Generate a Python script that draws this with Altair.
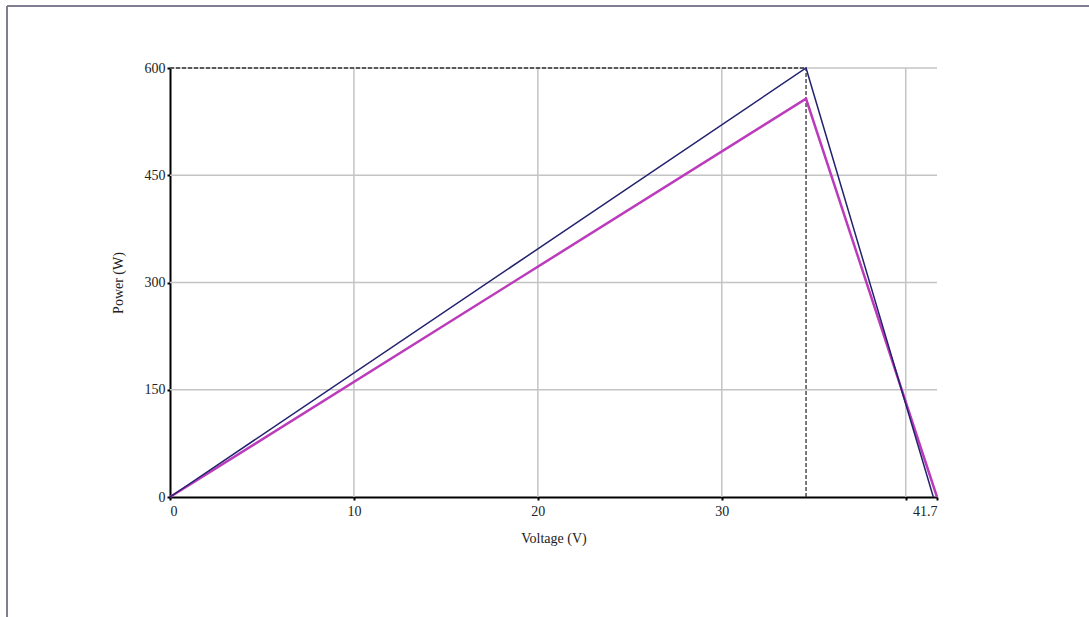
import altair as alt
import pandas as pd

# Data
voltage_upper = [0, 34.58, 41.5]
power_upper = [0, 600, 0]
voltage_lower = [0, 34.58, 41.7]
power_lower = [0, 557, 0]
mpp_v = 34.58
mpp_p = 600
x_grid = [10, 20, 30, 40]
y_grid = [150, 300, 450, 600]
x_ticks = [0, 10, 20, 30, 40, 41.7]
y_ticks = [0, 150, 300, 450, 600]

W, H = 767, 429
FONT = "Liberation Serif"

xs = alt.Scale(domain=[0, 41.7], nice=False, zero=False)
ys = alt.Scale(domain=[0, 600], nice=False)

df_up = pd.DataFrame({"v": voltage_upper, "p": power_upper, "o": range(3)})
df_lo = pd.DataFrame({"v": voltage_lower, "p": power_lower, "o": range(3)})

axis_common = dict(grid=False, domainColor="black", domainWidth=2, tickColor="black",
                   tickSize=3, tickWidth=2, labelFont=FONT, titleFont=FONT,
                   labelFontSize=14, titleFontSize=14, labelColor="#222222",
                   titleColor="#222222", titleFontWeight="normal")

grid_x = alt.Chart(pd.DataFrame({"v": x_grid})).mark_rule(color="#c4c4c4", strokeWidth=1.5).encode(
    x=alt.X("v:Q", scale=xs,
            axis=alt.Axis(values=x_ticks, title="Voltage (V)",
                          labelExpr="datum.value == 40 ? '' : (datum.value == 41.7 ? '41.7' : format(datum.value, 'd'))",
                          labelPadding=4, titlePadding=13, **axis_common)),
)
grid_y = alt.Chart(pd.DataFrame({"p": y_grid})).mark_rule(color="#c4c4c4", strokeWidth=1.5).encode(
    y=alt.Y("p:Q", scale=ys,
            axis=alt.Axis(values=y_ticks, title="Power (W)", labelPadding=2, titlePadding=19,
                          **axis_common)),
)

dash_h = alt.Chart(pd.DataFrame({"v0": [0], "v1": [mpp_v], "p": [mpp_p]})).mark_rule(
    color="#333333", strokeWidth=1.3, strokeDash=[4, 2]).encode(
    x=alt.X("v0:Q", scale=xs), x2="v1:Q", y=alt.Y("p:Q", scale=ys))
dash_v = alt.Chart(pd.DataFrame({"v": [mpp_v], "p0": [0], "p1": [mpp_p]})).mark_rule(
    color="#333333", strokeWidth=1.3, strokeDash=[4, 2]).encode(
    x=alt.X("v:Q", scale=xs), y=alt.Y("p0:Q", scale=ys), y2="p1:Q")

line_lo = alt.Chart(df_lo).mark_line(color="#bb3bbb", strokeWidth=2.5).encode(
    x=alt.X("v:Q", scale=xs), y=alt.Y("p:Q", scale=ys), order="o:Q")
line_up = alt.Chart(df_up).mark_line(color="#22226e", strokeWidth=1.5).encode(
    x=alt.X("v:Q", scale=xs), y=alt.Y("p:Q", scale=ys), order="o:Q")

# frame lines around the picture (top and left edges)
frame_top = alt.Chart(pd.DataFrame({"a": [0]})).mark_rule(color="#7f7d92", strokeWidth=2).encode(
    x=alt.value(-163), x2=alt.value(W + 160), y=alt.value(-62))
frame_left = alt.Chart(pd.DataFrame({"a": [0]})).mark_rule(color="#7f7d92", strokeWidth=2).encode(
    x=alt.value(-163), y=alt.value(-62), y2=alt.value(H + 130))

chart = alt.layer(grid_x, grid_y, dash_h, dash_v, line_lo, line_up, frame_top, frame_left).properties(
    width=W, height=H,
    background="white",
    autosize=alt.AutoSizeParams(type="none"),
    padding={"left": 170, "top": 68, "right": 152, "bottom": 120},
).configure_view(stroke=None)

chart.save("out.html", embed_options={"renderer": "svg", "actions": False})
